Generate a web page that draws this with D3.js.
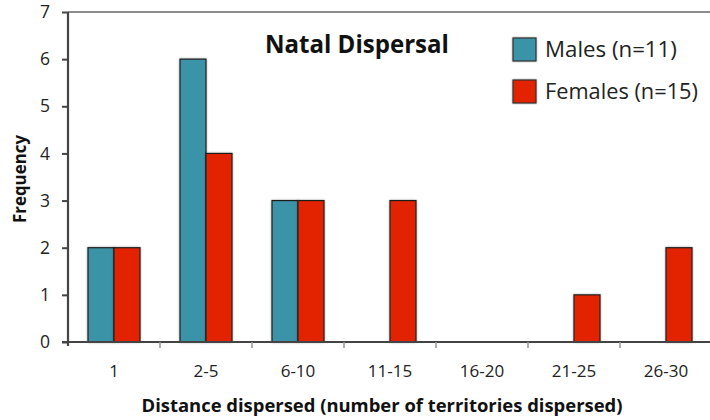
<!DOCTYPE html>
<html>
<head>
<meta charset="utf-8">
<script src="https://cdn.jsdelivr.net/npm/d3@7"></script>
<style>
  html, body { margin: 0; padding: 0; background: #fff; }
  svg { display: block; font-family: "Open Sans", Lato, sans-serif; }
</style>
</head>
<body>
<svg id="chart" width="710" height="420"></svg>
<script>
// Dispersal distance classes (territories) and counts per sex
const categories = ["1", "2-5", "6-10", "11-15", "16-20", "21-25", "26-30"];
const males = [2, 6, 3, 0, 0, 0, 0];
const females = [2, 4, 3, 3, 0, 1, 2];
const seriesNames = ["Males (n=11)", "Females (n=15)"];
const seriesColors = ["#3a93a8", "#e32400"];
const yTicks = [0, 1, 2, 3, 4, 5, 6, 7];

const svg = d3.select("#chart");
const margin = { left: 68, top: 12, right: -2, bottom: 78 };
const W = 710, H = 420;

const x = d3.scaleBand().domain(categories)
  .range([margin.left, W - margin.right]).padding(0);
// two 26px bars centred in each 92px band
const inner = d3.scaleBand().domain([0, 1])
  .range([20, x.bandwidth() - 20]).padding(0);
const y = d3.scaleLinear().domain([0, 7]).range([H - margin.bottom, margin.top]);

// scale a text element's font so it spans the given width
function fitWidth(sel, width) {
  const node = sel.node();
  const fs = parseFloat(sel.attr("font-size"));
  const w = node.getComputedTextLength();
  if (w > 0) sel.attr("font-size", (fs * width / w).toFixed(2));
  return sel;
}

const defs = svg.append("defs");
const f = defs.append("filter").attr("id", "shadow")
  .attr("x", "-20%").attr("y", "-5%").attr("width", "140%").attr("height", "110%");
f.append("feGaussianBlur").attr("in", "SourceAlpha").attr("stdDeviation", 1.2).attr("result", "b");
f.append("feComponentTransfer").attr("in", "b").attr("result", "b2")
  .append("feFuncA").attr("type", "linear").attr("slope", 0.35);
const m = f.append("feMerge");
m.append("feMergeNode").attr("in", "b2");
m.append("feMergeNode").attr("in", "SourceGraphic");

// top border of plot area
svg.append("line")
  .attr("x1", margin.left).attr("x2", W)
  .attr("y1", y(7)).attr("y2", y(7))
  .attr("stroke", "#8c8c8c").attr("stroke-width", 2);

// bars
[males, females].forEach((vals, si) => {
  svg.append("g").attr("filter", "url(#shadow)")
    .selectAll("rect")
    .data(vals.map((v, i) => ({ v, c: categories[i] })).filter(d => d.v > 0))
    .join("rect")
    .attr("x", d => x(d.c) + inner(si))
    .attr("y", d => y(d.v))
    .attr("width", inner.bandwidth())
    .attr("height", d => y(0) - y(d.v))
    .attr("fill", seriesColors[si])
    .attr("stroke", "#1e1e1e").attr("stroke-width", 1.2);
});

// y axis
const yAxis = d3.axisLeft(y).tickValues(yTicks).tickSize(6).tickPadding(12).tickFormat(d3.format("d"));
const gy = svg.append("g").attr("transform", `translate(${margin.left},0)`).call(yAxis);
gy.select(".domain").attr("stroke", "#444").attr("stroke-width", 2.2)
  .attr("d", `M0,${y(7)}V${y(0) + 4}`);
gy.selectAll(".tick line").attr("stroke", "#444").attr("stroke-width", 2);
gy.selectAll(".tick text").attr("font-size", 17.5).attr("fill", "#222")
  .attr("font-family", "'Open Sans', sans-serif");

// x axis baseline and separators
svg.append("line")
  .attr("x1", margin.left - 6).attr("x2", W)
  .attr("y1", y(0)).attr("y2", y(0))
  .attr("stroke", "#444").attr("stroke-width", 2);
svg.append("g").selectAll("line").data(categories.slice(1)).join("line")
  .attr("x1", d => x(d)).attr("x2", d => x(d))
  .attr("y1", y(0)).attr("y2", y(0) + 6)
  .attr("stroke", "#999").attr("stroke-width", 1.5);
svg.append("g").selectAll("text").data(categories).join("text")
  .attr("x", d => x(d) + x.bandwidth() / 2)
  .attr("y", y(0) + 35)
  .attr("text-anchor", "middle")
  .attr("font-size", 17).attr("fill", "#222")
  .text(d => d);

// axis titles
fitWidth(svg.append("text")
  .attr("x", 382).attr("y", 412)
  .attr("text-anchor", "middle")
  .attr("font-size", 16).attr("font-weight", "bold").attr("fill", "#111")
  .text("Distance dispersed (number of territories dispersed)"), 481);
fitWidth(svg.append("text")
  .attr("transform", `translate(26,179) rotate(-90)`)
  .attr("text-anchor", "middle")
  .attr("font-size", 16).attr("font-weight", "bold").attr("fill", "#111")
  .text("Frequency"), 88);

// title
fitWidth(svg.append("text")
  .attr("x", 265).attr("y", 53)
  .attr("font-size", 22).attr("font-weight", "bold").attr("fill", "#111")
  .text("Natal Dispersal"), 184);

// legend
const lg = svg.append("g").attr("transform", "translate(513,38)");
seriesNames.forEach((name, i) => {
  const row = lg.append("g").attr("transform", `translate(0,${i * 42})`);
  row.append("rect").attr("width", 23).attr("height", 23)
    .attr("fill", seriesColors[i]).attr("stroke", "#333").attr("stroke-width", 1.2)
    .attr("filter", "url(#shadow)");
  fitWidth(row.append("text").attr("x", 32).attr("y", 19)
    .attr("font-size", 19).attr("fill", "#222").text(name), i === 0 ? 132 : 153);
});
</script>
</body>
</html>
